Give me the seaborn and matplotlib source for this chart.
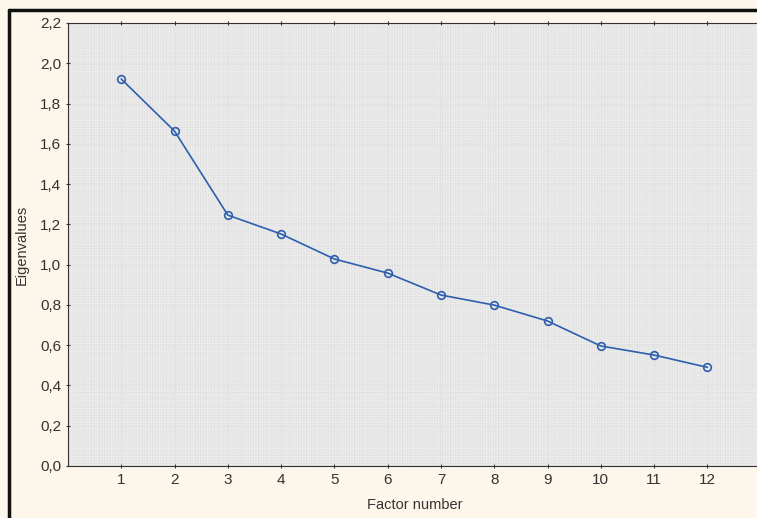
import matplotlib
matplotlib.use("Agg")
import matplotlib.pyplot as plt
from matplotlib.lines import Line2D
from matplotlib.ticker import FuncFormatter
import pandas as pd
import seaborn as sns

factors = [1, 2, 3, 4, 5, 6, 7, 8, 9, 10, 11, 12]
eigenvalues = [1.922, 1.663, 1.246, 1.152, 1.028, 0.958, 0.849, 0.799, 0.720, 0.596, 0.551, 0.490]
y_ticks = [0.0, 0.2, 0.4, 0.6, 0.8, 1.0, 1.2, 1.4, 1.6, 1.8, 2.0, 2.2]

df = pd.DataFrame({"Factor number": factors, "Eigenvalues": eigenvalues})

sns.set_style("ticks")
plt.rcParams["font.family"] = ["Liberation Sans", "DejaVu Sans"]

fig = plt.figure(figsize=(7.57, 5.18), dpi=100, facecolor="#fdf6ea")
ax = fig.add_axes([0.0898, 0.1004, 0.915, 0.8552])
ax.set_facecolor("#e2e2e2")

# fine dotted background grid like the original
ax.set_xticks([x / 20 for x in range(0, 13 * 20 + 1)], minor=True)
ax.set_yticks([y / 100 for y in range(0, 221)], minor=True)
ax.grid(which="minor", color="white", linestyle=":", linewidth=0.45)

sns.lineplot(data=df, x="Factor number", y="Eigenvalues", ax=ax,
             color="#2d5fae", linewidth=1.2, marker="o", markersize=5.5,
             markerfacecolor="none", markeredgecolor="#2d5fae", markeredgewidth=1.2)

ax.set_xlim(0, 13)
ax.set_ylim(0, 2.2)
ax.set_xticks(factors)
ax.set_yticks(y_ticks)
ax.yaxis.set_major_formatter(FuncFormatter(lambda v, p: f"{v:.1f}".replace(".", ",")))
ax.tick_params(axis="both", which="major", labelsize=11, color="#333333", length=3,
               width=0.8, top=True, direction="inout", labelcolor="#333333")
ax.tick_params(axis="both", which="minor", length=0)
ax.set_xlabel("Factor number", fontsize=10.5, color="#333333", labelpad=8)
ax.set_ylabel("Eigenvalues", fontsize=10.5, color="#333333", labelpad=8)
for s in ax.spines.values():
    s.set_color("#333333")
    s.set_linewidth(0.8)

# outer black frame (left and top)
fig.add_artist(Line2D([0.0125, 0.0125], [0, 0.981], transform=fig.transFigure, color="#111111", linewidth=2.5))
fig.add_artist(Line2D([0.0125, 1.0], [0.981, 0.981], transform=fig.transFigure, color="#111111", linewidth=2.5))

fig.savefig("out.png", dpi=100, facecolor=fig.get_facecolor())
